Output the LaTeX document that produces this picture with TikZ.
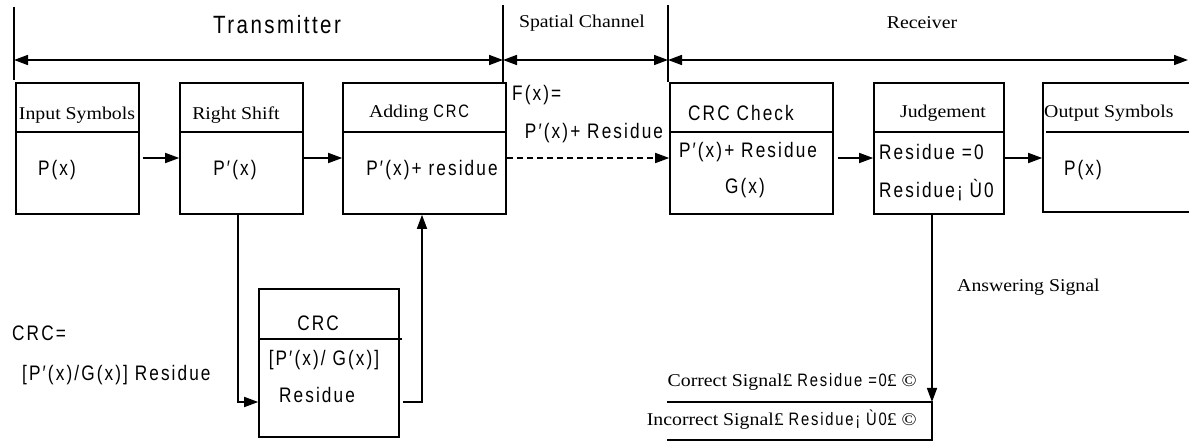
\documentclass[tikz,border=0pt]{standalone}
\usepackage{fontspec}
\usetikzlibrary{arrows.meta}
\newfontfamily\tnr[FakeStretch=1.1]{Liberation Serif}
\newfontfamily\ars[FakeStretch=0.82,LetterSpace=10]{Liberation Sans}
\begin{document}
\begin{tikzpicture}[x=1pt,y=-1pt,
  ln/.style={line width=1.6pt},
  box/.style={draw, line width=1.6pt, rectangle, inner sep=0pt},
  arr/.style={ln, -{Triangle[length=14pt,width=10pt]}},
  dimarr/.style={ln, {Triangle[length=14pt,width=10pt]}-{Triangle[length=14pt,width=10pt]}},
  lbl/.style={font=\tnr\fontsize{18}{20}\selectfont, inner sep=0pt},
  mth/.style={font=\ars\fontsize{21}{23}\selectfont, inner sep=0pt}]
\useasboundingbox (0,0) rectangle (1189,443);

% dimension lines at top
\coordinate (v1t) at (14,7);   \coordinate (v1b) at (14,80);
\coordinate (v2t) at (503,5);  \coordinate (v2b) at (503,82);
\coordinate (v3t) at (668,5);  \coordinate (v3b) at (668,82);
\draw[ln] (v1t) -- (v1b);
\draw[ln] (v2t) -- (v2b);
\draw[ln] (v3t) -- (v3b);
\coordinate (d1) at (14,60);
\coordinate (d2) at (503,60);
\coordinate (d3) at (668,60);
\coordinate (d4) at (1188,60);
\draw[dimarr] (d1) -- (d2);
\draw[dimarr] (d2) -- (d3);
\draw[dimarr] (d3) -- (d4);
\node[font=\ars\fontsize{25}{27}\selectfont, inner sep=0pt] (ttx) at (277,25) {Transmitter};
\node[lbl] (tsc) at (582,23) {Spatial Channel};
\node[lbl] (trx) at (922,23) {Receiver};

% top row boxes
\node[box, minimum width=123pt, minimum height=131pt] (inbox) at (77.5,148.5) {};
\node[box, minimum width=123pt, minimum height=131pt] (rsbox) at (241.5,148.5) {};
\node[box, minimum width=163pt, minimum height=131pt] (addbox) at (424.5,148.5) {};
\node[box, minimum width=163pt, minimum height=131pt] (chkbox) at (751.5,148.5) {};
\node[box, minimum width=130pt, minimum height=131pt] (judbox) at (939,148.5) {};
\node[box, minimum width=160pt, minimum height=129pt] (outbox) at (1123,147.5) {};
\node[box, minimum width=140pt, minimum height=148pt] (crcbox) at (329,363) {};

% dividers
\draw[ln] (15,132) -- (139,132);
\draw[ln] (180,132) -- (303,132);
\draw[ln] (343,132) -- (506,132);
\draw[ln] (670,132) -- (833,132);
\draw[ln] (874,132) -- (1004,132);
\draw[ln] (1046,132) -- (1195,132);
\draw[ln] (259,339) -- (402,339);

% box texts
\node[lbl] (tin) at (77,115) {Input Symbols};
\node[mth] (tinp) at (57,170) {P(x)};
\node[lbl] (trs) at (236,115) {Right Shift};
\node[mth] (trsp) at (235,170) {P′(x)};
\node[font=\tnr\fontsize{18}{20}\selectfont, inner sep=0pt] (tadd) at (419,113) {Adding \ars CRC};
\node[mth] (taddp) at (432,170) {P′(x)+ residue};
\node[mth] (tchk) at (741,113) {CRC Check};
\node[mth] (tchkp) at (748,152) {P′(x)+ Residue};
\node[mth] (tchkg) at (745,188) {G(x)};
\node[lbl] (tjud) at (943,113) {Judgement};
\node[mth, anchor=west] (tjud1) at (879,152) {Residue =0};
\node[mth, anchor=west] (tjud2) at (879,190) {Residue¡ Ù0};
\node[lbl, anchor=west] (tout) at (1044,113) {Output Symbols};
\node[mth] (toutp) at (1083,170) {P(x)};
\node[mth, anchor=west] (tfx) at (512,95) {F(x)=};
\node[mth] (tfx2) at (594,133) {P′(x)+ Residue};
\node[mth] (tcrc) at (318,323) {CRC};
\node[mth] (tcrc1) at (324,360) {[P′(x)/ G(x)]};
\node[mth] (tcrc2) at (317,395) {Residue};
\node[mth, anchor=west] (tl1) at (12,333) {CRC=};
\node[mth, anchor=west] (tl2) at (22,375) {[P′(x)/G(x)] Residue};
\node[lbl, anchor=west] (tans) at (957,287) {Answering Signal};
\node[lbl, anchor=east] (tcor) at (917,382) {Correct Signal£ \ars Residue =0\tnr £ ©};
\node[lbl, anchor=east] (tinc) at (917,420) {Incorrect Signal£ \ars Residue¡ Ù0\tnr £ ©};

% connectors
\draw[arr] ([xshift=3pt,yshift=-9.5pt]inbox.east) -- ([yshift=-9.5pt]rsbox.west);
\draw[arr] ([yshift=-9.5pt]rsbox.east) -- ([yshift=-9.5pt]addbox.west);
\draw[arr, dash pattern=on 6pt off 4pt] ([yshift=-9.5pt]addbox.east) -- ([yshift=-9.5pt]chkbox.west);
\draw[arr] ([xshift=4pt,yshift=-9.5pt]chkbox.east) -- ([yshift=-9.5pt]judbox.west);
\draw[arr] ([yshift=-9.5pt]judbox.east) -- ([yshift=-10.5pt]outbox.west);
\draw[arr] ([xshift=-3.5pt]rsbox.south) |- ([yshift=-39pt]crcbox.west);
\draw[arr] ([xshift=3pt,yshift=-39pt]crcbox.east) -| ([xshift=-2.5pt]addbox.south);

\coordinate (sigTR) at (932,402);
\coordinate (sigTL) at (667,402);
\coordinate (sigBR) at (932,440);
\coordinate (sigBL) at (667,440);
\draw[arr] ([xshift=-7pt]judbox.south) -- (sigTR);
\draw[ln] (sigTL) -- (sigTR) -- (sigBR) -- (sigBL);
\end{tikzpicture}
\end{document}
